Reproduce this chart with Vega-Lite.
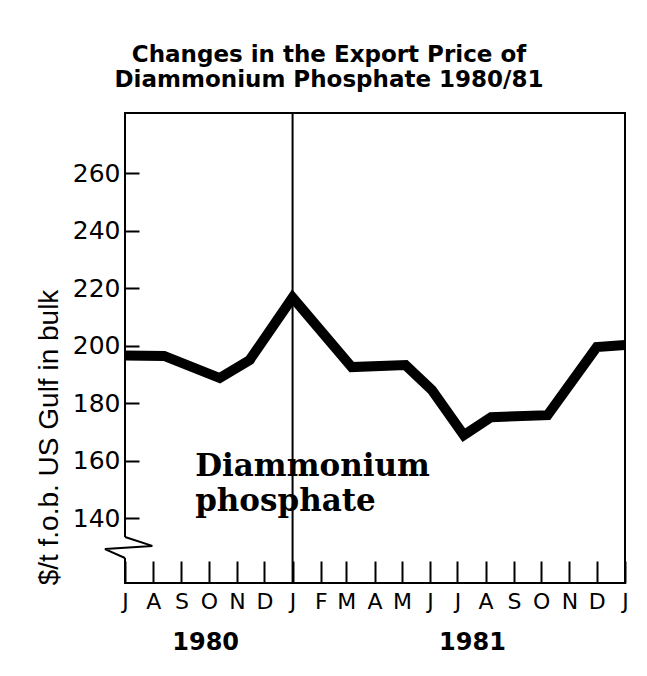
{
  "$schema": "https://vega.github.io/schema/vega-lite/v6.json",
  "autosize": "none",
  "width": 500,
  "height": 470,
  "padding": {"left": 125, "top": 113, "right": 22, "bottom": 93},
  "background": "white",
  "config": {
    "view": {"stroke": "black", "strokeWidth": 2},
    "font": "DejaVu Sans"
  },
  "title": {
    "text": ["Changes in the Export Price of", "Diammonium Phosphate 1980/81"],
    "font": "DejaVu Sans",
    "fontSize": 23,
    "fontWeight": "bold",
    "color": "black",
    "anchor": "middle",
    "dx": -46,
    "offset": 20,
    "lineHeight": 25
  },
  "resolve": {"axis": {"x": "independent", "y": "independent"}},
  "layer": [
    {
      "data": {"values": [{"date": "1981-01-01"}]},
      "mark": {"type": "rule", "color": "black", "strokeWidth": 2},
      "encoding": {
        "x": {"field": "date", "type": "temporal", "axis": null}
      }
    },
    {
      "data": {"values": [
        {"date": "1980-07-01", "lo": 126.2, "hi": 133.5}
      ]},
      "mark": {"type": "rule", "color": "white", "strokeWidth": 5},
      "encoding": {
        "x": {"field": "date", "type": "temporal", "axis": null},
        "y": {"field": "lo", "type": "quantitative", "axis": null},
        "y2": {"field": "hi"}
      }
    },
    {
      "data": {"values": [
        {"k": 1, "date": "1980-07-01", "v": 133.5},
        {"k": 2, "date": "1980-07-31", "v": 130.4},
        {"k": 3, "date": "1980-06-09", "v": 129.3},
        {"k": 4, "date": "1980-07-01", "v": 126.2}
      ]},
      "mark": {"type": "line", "color": "black", "strokeWidth": 2, "clip": false},
      "encoding": {
        "x": {"field": "date", "type": "temporal", "axis": null},
        "y": {"field": "v", "type": "quantitative", "axis": null},
        "order": {"field": "k"}
      }
    },
    {
      "data": {"values": [
        {"date": "1980-07-01", "price": 196.6},
        {"date": "1980-08-13", "price": 196.5},
        {"date": "1980-10-13", "price": 188.8},
        {"date": "1980-11-15", "price": 195.1},
        {"date": "1981-01-01", "price": 216.8},
        {"date": "1981-03-07", "price": 192.6},
        {"date": "1981-05-05", "price": 193.3},
        {"date": "1981-06-03", "price": 184.6},
        {"date": "1981-07-08", "price": 168.9},
        {"date": "1981-08-07", "price": 175.2},
        {"date": "1981-10-08", "price": 175.9},
        {"date": "1981-12-01", "price": 199.6},
        {"date": "1982-01-01", "price": 200.3}
      ]},
      "mark": {"type": "line", "color": "black", "strokeWidth": 10, "strokeJoin": "miter", "strokeCap": "butt"},
      "encoding": {
        "x": {
          "field": "date", "type": "temporal",
          "scale": {"type": "utc", "domain": ["1980-07-01", "1982-01-01"]},
          "axis": {
            "orient": "bottom",
            "title": null,
            "domain": false,
            "grid": false,
            "tickCount": {"interval": "month", "step": 1},
            "tickSize": -22,
            "tickWidth": 2,
            "tickColor": "black",
            "labelExpr": "slice(utcFormat(datum.value, '%b'), 0, 1)",
            "labelFlush": false,
            "labelOverlap": false,
            "labelFont": "DejaVu Sans",
            "labelFontSize": 22,
            "labelColor": "black",
            "labelBaseline": "top",
            "labelPadding": 30
          }
        },
        "y": {
          "field": "price", "type": "quantitative",
          "scale": {"domain": [117.5, 281], "nice": false, "zero": false},
          "axis": {
            "orient": "left",
            "title": "$/t f.o.b. US Gulf in bulk",
            "titleFont": "Liberation Sans",
            "titleFontSize": 28,
            "titleFontWeight": "normal",
            "titleColor": "black",
            "titleX": -76,
            "titleY": 324,
            "titleAngle": -90,
            "titleAlign": "center",
            "titleBaseline": "middle",
            "domain": false,
            "grid": false,
            "values": [140, 160, 180, 200, 220, 240, 260],
            "tickSize": -14,
            "tickWidth": 2,
            "tickColor": "black",
            "labelFont": "DejaVu Sans",
            "labelFontSize": 25,
            "labelColor": "black",
            "labelPadding": 19
          }
        }
      }
    },
    {
      "data": {"values": [{"date": "1980-09-16", "level": 154.7, "label": "Diammonium\nphosphate"}]},
      "mark": {"type": "text", "font": "DejaVu Serif", "fontWeight": "bold", "fontSize": 31, "align": "left", "baseline": "alphabetic", "lineBreak": "\n", "lineHeight": 35, "color": "black"},
      "encoding": {
        "x": {
          "field": "date", "type": "temporal",
          "axis": {
            "orient": "bottom",
            "title": null,
            "domain": false,
            "grid": false,
            "ticks": false,
            "values": [{"year": 1980, "month": 9, "date": 27, "utc": true}, {"year": 1981, "month": 7, "date": 17, "utc": true}],
            "labelExpr": "utcFormat(datum.value, '%Y')",
            "labelFlush": false,
            "labelFont": "DejaVu Sans",
            "labelFontSize": 24,
            "labelFontWeight": "bold",
            "labelColor": "black",
            "labelBaseline": "top",
            "labelPadding": 47
          }
        },
        "y": {"field": "level", "type": "quantitative", "axis": null},
        "text": {"field": "label"}
      }
    }
  ]
}
